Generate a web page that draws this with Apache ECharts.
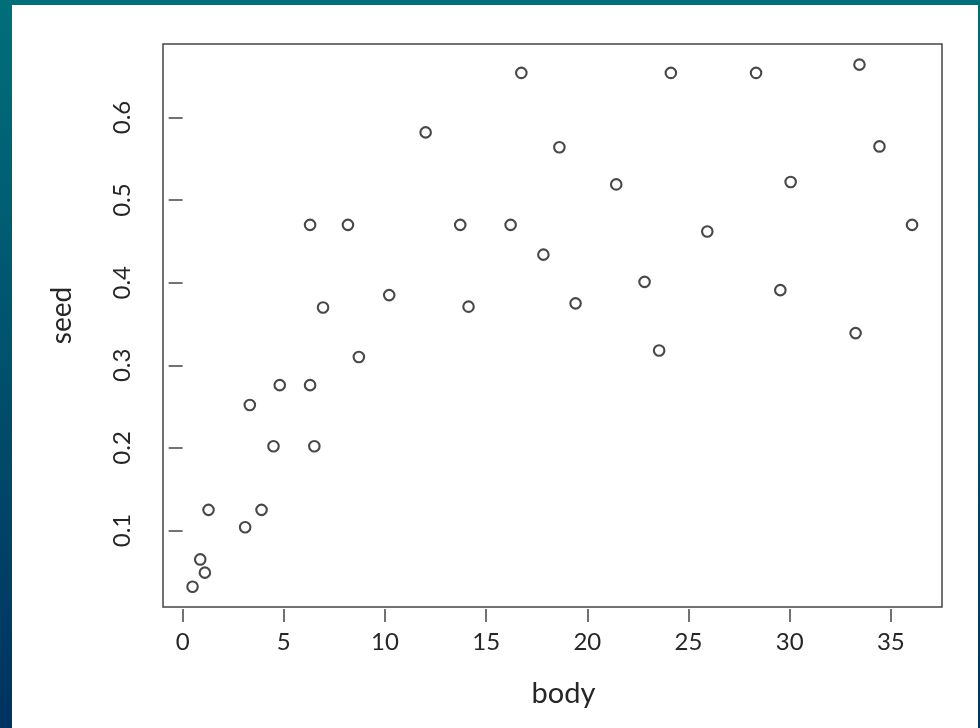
<!DOCTYPE html>
<html><head><meta charset="utf-8">
<script src="https://cdn.jsdelivr.net/npm/echarts@6/dist/echarts.min.js"></script>
<style>
html,body{margin:0;padding:0;}
body{width:980px;height:728px;background:linear-gradient(to bottom,#006f7a 0%,#00325f 100%);position:relative;overflow:hidden;}
#panel{position:absolute;left:12px;top:5px;width:966px;height:723px;background:#fff;}
#chart{position:absolute;left:0;top:0;width:980px;height:728px;}
</style></head>
<body><div id="panel"></div><div id="chart"></div>
<script>
const bodyVals = [0.49, 0.87, 1.10, 1.28, 3.09, 3.32, 3.90, 4.49, 4.80, 6.30, 6.51, 6.30, 8.17, 6.94, 8.71, 10.21, 12.01, 13.72, 14.13, 16.21, 16.74, 17.83, 18.62, 19.42, 21.43, 22.83, 23.55, 24.13, 25.93, 28.34, 29.54, 30.05, 33.26, 33.45, 34.44, 36.05];
const seedVals = [0.032, 0.065, 0.049, 0.125, 0.104, 0.252, 0.125, 0.202, 0.276, 0.276, 0.202, 0.470, 0.470, 0.370, 0.310, 0.385, 0.582, 0.470, 0.371, 0.470, 0.654, 0.434, 0.564, 0.375, 0.519, 0.401, 0.318, 0.654, 0.462, 0.654, 0.391, 0.522, 0.339, 0.664, 0.565, 0.470];
const xTicks = [0, 5, 10, 15, 20, 25, 30, 35];
const yTicks = [0.1, 0.2, 0.3, 0.4, 0.5, 0.6];
const xName = 'body';
const yName = 'seed';

const font = 'Lato, "Open Sans", sans-serif';
const txt = '#262626';
const axisCol = '#444';

const chart = echarts.init(document.getElementById('chart'), null, {renderer: 'canvas'});
chart.setOption({
  animation: false,
  backgroundColor: 'transparent',
  grid: {left: 163, top: 44, width: 779, height: 563, show: true, borderColor: axisCol, borderWidth: 1.5, backgroundColor: 'transparent'},
  xAxis: {
    type: 'value', min: -0.97, max: 37.53, offset: 2,
    name: xName, nameLocation: 'middle', nameGap: 70,
    nameTextStyle: {fontFamily: font, fontSize: 29, color: txt, padding: [0, 0, 0, 22]},
    axisLine: {show: false},
    splitLine: {show: false},
    axisTick: {show: true, customValues: xTicks, length: 13, lineStyle: {color: axisCol, width: 1.5}},
    axisLabel: {customValues: xTicks, fontFamily: font, fontSize: 24, color: txt, margin: 21}
  },
  yAxis: {
    type: 'value', min: 0.0074, max: 0.689,
    name: yName, nameLocation: 'middle', nameGap: 87, nameRotate: 90,
    nameTextStyle: {fontFamily: font, fontSize: 28, color: txt, padding: [0, 0, 0, 20]},
    axisLine: {show: false},
    splitLine: {show: false},
    axisTick: {show: true, customValues: yTicks, length: 14, lineStyle: {color: axisCol, width: 1.5}},
    axisLabel: {customValues: yTicks, rotate: 90, fontFamily: font, fontSize: 24, color: txt, margin: 29,
      formatter: v => v.toFixed(1)}
  },
  series: [{
    type: 'scatter',
    data: bodyVals.map((b, i) => [b, seedVals[i]]),
    symbol: 'circle', symbolSize: 10.5,
    itemStyle: {color: '#fff', borderColor: '#1a1a1a', borderWidth: 2.1},
    emphasis: {disabled: true}
  }]
});
</script>
</body></html>
